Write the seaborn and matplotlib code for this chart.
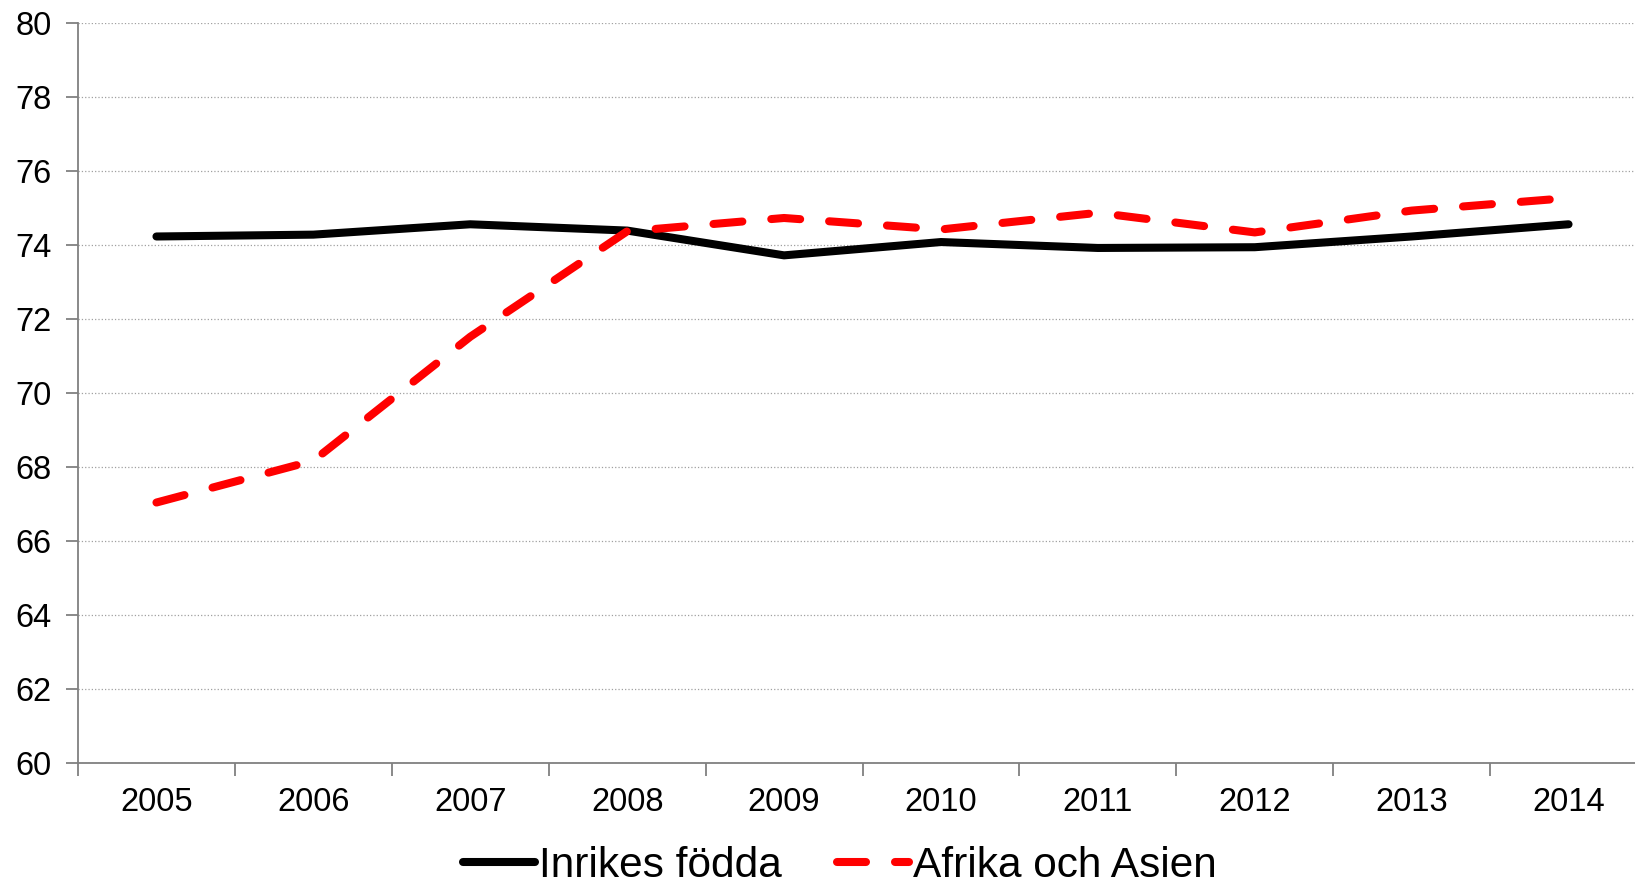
import pandas as pd
import numpy as np
import matplotlib
matplotlib.use('Agg')
import matplotlib.pyplot as plt
import seaborn as sns

# Data
years = ['2005', '2006', '2007', '2008', '2009', '2010', '2011', '2012', '2013', '2014']
inrikes = [74.23, 74.28, 74.56, 74.39, 73.72, 74.08, 73.92, 73.94, 74.23, 74.56]
afrika_asien = [67.04, 68.17, 71.52, 74.37, 74.73, 74.42, 74.87, 74.34, 74.93, 75.27]
series_names = ['Inrikes födda', 'Afrika och Asien']

df = pd.DataFrame({
    'year': years * 2,
    'value': inrikes + afrika_asien,
    'series': [series_names[0]] * len(years) + [series_names[1]] * len(years),
})

sns.set_style('white')
plt.rcParams['font.family'] = ['Liberation Sans', 'DejaVu Sans']

fig = plt.figure(figsize=(16.35, 8.85), dpi=100)
ax = fig.add_axes([78 / 1635, 1 - 763 / 885, 1569 / 1635, (763 - 23) / 885])

sns.lineplot(data=df, x='year', y='value', hue='series', style='series',
             palette=['black', '#ff0000'], dashes=[(None, None), (3.6, 3.6)],
             linewidth=5.8, sort=False, ax=ax, legend=True)
for line in ax.get_lines():
    line.set_solid_capstyle('round')
    line.set_dash_capstyle('round')
    line.set_solid_joinstyle('round')

ax.set_xlim(-0.5, 9.5)
ax.set_ylim(60, 80)
ax.set_yticks(np.arange(60, 81, 2))
ax.set_xticks(np.arange(len(years)))
ax.set_xticklabels(years)
ax.set_xticks(np.arange(-0.5, 10, 1), minor=True)
ax.tick_params(axis='x', which='major', bottom=True, length=0, pad=17, labelsize=23.5, labelcolor='black')
ax.tick_params(axis='x', which='minor', bottom=True, length=9, width=1.3, color='#808080', direction='out')
ax.tick_params(axis='y', left=True, length=9, width=1.3, color='#808080', direction='out',
               labelsize=23.5, pad=10, labelcolor='black')
ax.yaxis.grid(True, linestyle=':', color='#a0a0a0', linewidth=0.9)
ax.set_axisbelow(True)
ax.set_xlabel('')
ax.set_ylabel('')
for s in ['top', 'right']:
    ax.spines[s].set_visible(False)
for s in ['left', 'bottom']:
    ax.spines[s].set_color('#808080')
    ax.spines[s].set_linewidth(1.3)

handles, labels = ax.get_legend_handles_labels()
leg = ax.legend(handles, labels, loc='center', bbox_to_anchor=(805 * 1.043 / 1635, 1 - 866 / 885),
                bbox_transform=fig.transFigure, ncol=2, frameon=False, fontsize=30.5,
                handlelength=1.7, handletextpad=0.1, columnspacing=1.3)
for t in leg.get_texts():
    t.set_color('black')
for h in leg.legend_handles:
    h.set_linewidth(5.8)

fig.savefig('out.png', dpi=100)
